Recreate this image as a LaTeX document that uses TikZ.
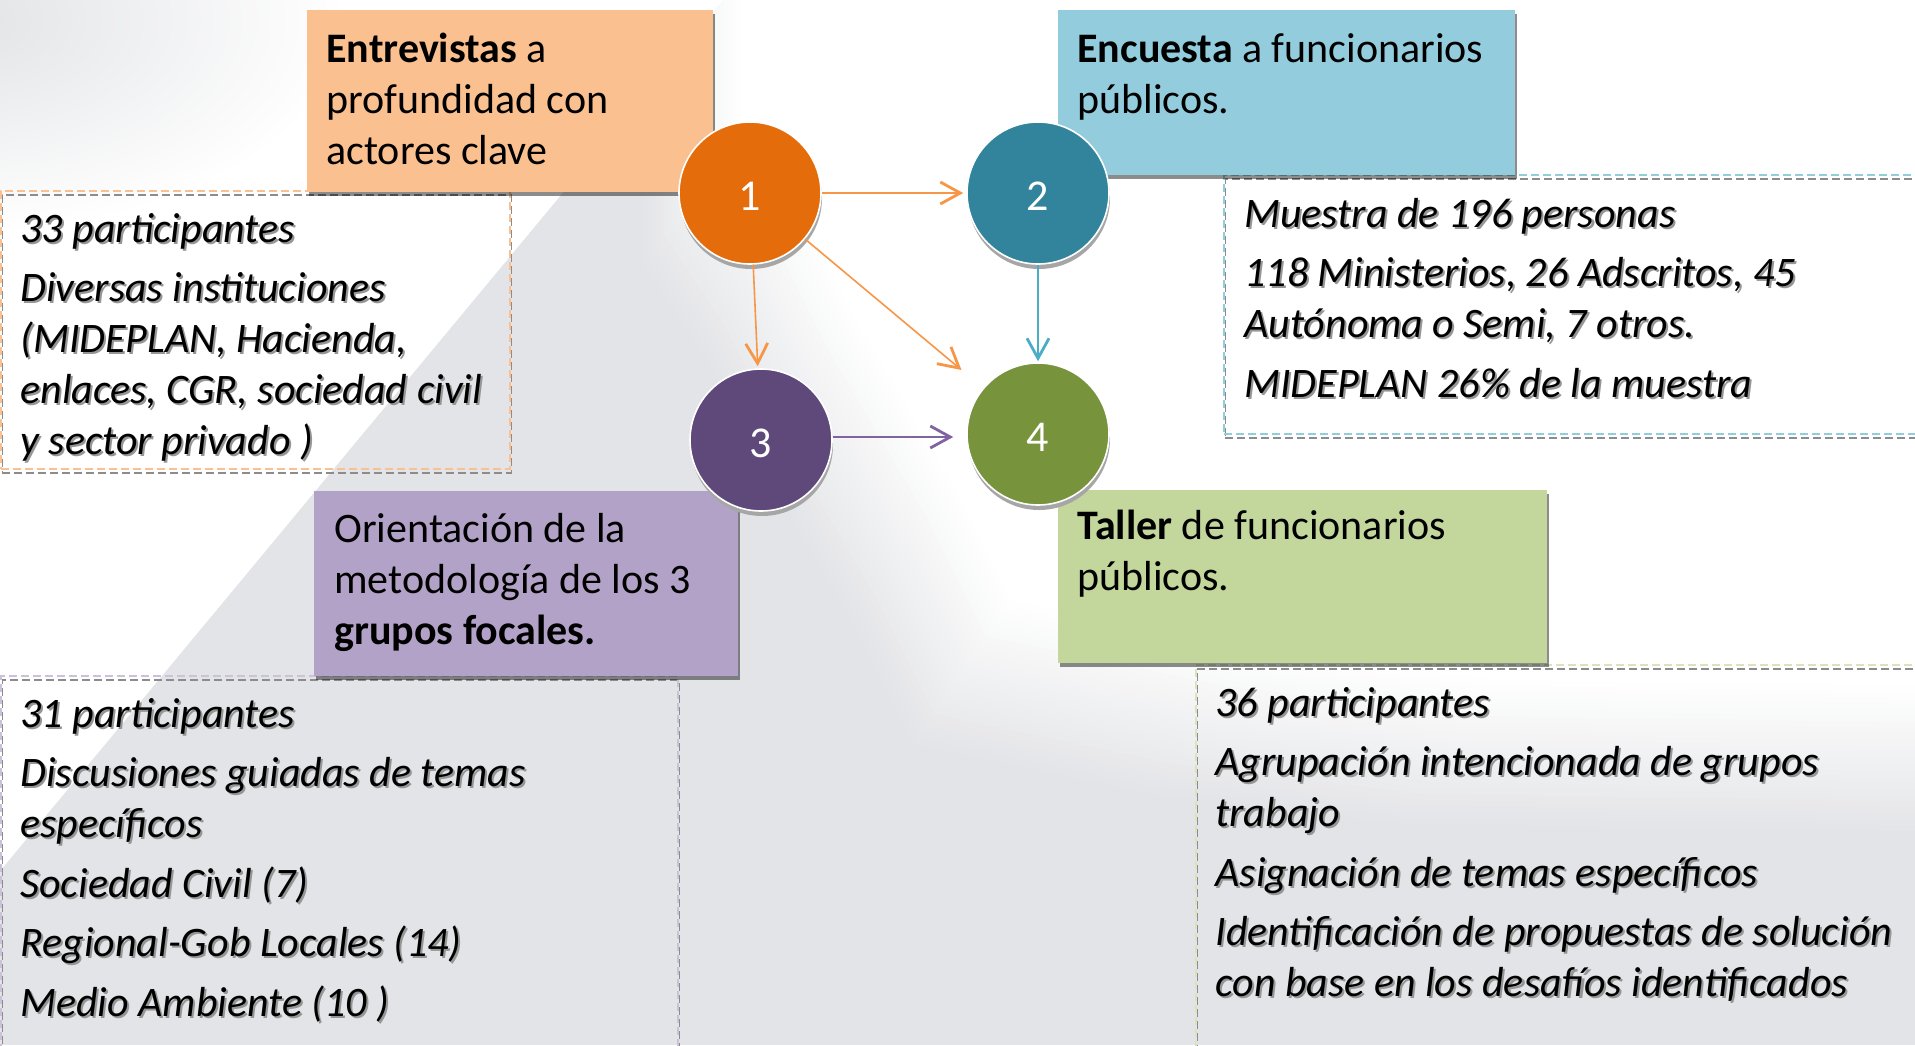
\documentclass[tikz,border=0pt]{standalone}
\usepackage{fontspec}
\setmainfont{Carlito}
\usetikzlibrary{arrows.meta,shadows,fadings}
\definecolor{bgG}{RGB}{227,228,231}
\definecolor{boxO}{RGB}{250,192,144}
\definecolor{boxB}{RGB}{147,205,221}
\definecolor{boxP}{RGB}{179,162,199}
\definecolor{boxG}{RGB}{195,214,155}
\definecolor{cirO}{RGB}{228,108,10}
\definecolor{cirB}{RGB}{49,132,155}
\definecolor{cirP}{RGB}{95,73,122}
\definecolor{cirG}{RGB}{119,147,60}
\definecolor{arrO}{RGB}{247,150,70}
\definecolor{arrB}{RGB}{75,172,198}
\definecolor{arrP}{RGB}{128,100,162}
\definecolor{dashO}{RGB}{250,192,144}
\definecolor{dashB}{RGB}{146,205,220}
\definecolor{dashP}{RGB}{204,193,218}
\definecolor{dashG}{RGB}{215,228,189}
\definecolor{dshadow}{RGB}{140,140,140}
\definecolor{tshadow}{RGB}{150,150,150}
\tikzfading[name=radfade, inner color=transparent!0, outer color=transparent!100]
\newcommand\PL[1]{\hbox{#1}}
\newcommand\SL[1]{\hbox{\rlap{\kern1pt\raisebox{-1pt}{\textcolor{tshadow}{#1}}}#1}}
\newcommand\PS{\vskip4.25pt}
\def\softpath{(740,-200) -- (740,120) -- (800,210) -- (850,310) -- (950,480) -- (1010,600) -- (1250,650) -- (1500,680) -- (2200,690) -- (2200,-200) -- cycle}
\begin{document}
\begin{tikzpicture}[x=0.5pt,y=-0.5pt,
  txt/.style={anchor=base west, inner sep=0pt, font=\fontsize{21pt}{25.5pt}\selectfont},
  cbox/.style={anchor=north west, inner sep=0pt, fill=#1,
    drop shadow={shadow xshift=0.6pt, shadow yshift=-2pt, opacity=0.45, fill=black}},
  dbox/.style={anchor=north west, inner sep=0pt, draw=#1, line width=0.9pt,
    dash pattern=on 4pt off 2pt,
    preaction={draw=dshadow, line width=0.9pt, dash pattern=on 4pt off 2pt,
      transform canvas={shift={(0.75pt,-2pt)}}}},
  num/.style={circle, minimum size=71pt, inner sep=0pt, fill=#1, draw=white,
    line width=0.8pt, text=white, font=\fontsize{22pt}{26pt}\selectfont,
    text height=17pt, text depth=0pt,
    drop shadow={shadow xshift=0.5pt, shadow yshift=-2.5pt, opacity=1, fill=black!35}},
  link/.style={draw=#1, line width=0.8pt,
    -{Straight Barb[length=10pt,width=11pt,line width=1.4pt]}},
]
\useasboundingbox (0,0) rectangle (1915,1045);
% background
\fill[bgG] (0,0) rectangle (1915,1045);
\foreach \k in {24,23,...,1} {
  \pgfmathsetmacro\pc{100*\k/25}
  \fill[bgG!\pc!white, shift={(-4*\k,6*\k)}] \softpath;
}
\fill[white] \softpath;
\fill[white] (-10,-10) -- (731,-10) -- (-10,883) -- cycle;
\fill[bgG, path fading=radfade] (-40,20) ellipse [x radius=190pt, y radius=105pt];

% dashed detail boxes
\node[dbox=dashO, minimum width=254.5pt, minimum height=139pt] (d1) at (0,190) {};
\node[dbox=dashB, minimum width=356pt, minimum height=129.5pt] (d2) at (1223,174) {};
\node[dbox=dashP, minimum width=338.5pt, minimum height=195pt] (d3) at (0,675) {};
\node[dbox=dashG, minimum width=370pt, minimum height=200pt] (d4) at (1195,664) {};

% coloured title boxes
\node[cbox=boxO, minimum width=203pt, minimum height=91pt] (bO) at (307,10) {};
\node[cbox=boxB, minimum width=228.5pt, minimum height=82.5pt] (bB) at (1058,10) {};
\node[cbox=boxP, minimum width=212pt, minimum height=92.5pt] (bP) at (314,491) {};
\node[cbox=boxG, minimum width=244.5pt, minimum height=86.5pt] (bG) at (1058,490) {};

% title texts
\node[txt] (tO) at (326,62) {\vtop{\PL{\textbf{Entrevistas} a}\PL{profundidad con}\PL{actores clave}}};
\node[txt] (tB) at (1077,62) {\vtop{\PL{\textbf{Encuesta} a funcionarios}\PL{públicos.}}};
\node[txt] (tP) at (334,542) {\vtop{\PL{Orientación de la}\PL{metodología de los 3}\PL{\textbf{grupos focales.}}}};
\node[txt] (tG) at (1077,539) {\vtop{\PL{\textbf{Taller} de funcionarios}\PL{públicos.}}};

% detail texts
\node[txt] (t1) at (20,242) {\vtop{\itshape
  \SL{33 participantes}\PS
  \SL{Diversas instituciones}
  \SL{(MIDEPLAN, Hacienda,}
  \SL{enlaces, CGR, sociedad civil}
  \SL{y sector privado )}}};
\node[txt] (t2) at (1244,227) {\vtop{\itshape
  \SL{Muestra de 196 personas}\PS
  \SL{118 Ministerios, 26 Adscritos, 45}
  \SL{Autónoma o Semi, 7 otros.}\PS
  \SL{MIDEPLAN 26\% de la muestra}}};
\node[txt] (t3) at (20,727) {\vtop{\itshape
  \SL{31 participantes}\PS
  \SL{Discusiones guiadas de temas}
  \SL{específicos}\PS
  \SL{Sociedad Civil (7)}\PS
  \SL{Regional-Gob Locales (14)}\PS
  \SL{Medio Ambiente (10 )}}};
\node[txt] (t4) at (1215,716) {\vtop{\itshape
  \SL{36 participantes}\PS
  \SL{Agrupación intencionada de grupos}
  \SL{trabajo}\PS
  \SL{Asignación de temas específicos}\PS
  \SL{Identificación de propuestas de solución}
  \SL{con base en los desafíos identificados}}};

% numbered circles
\node[num=cirO] (c1) at (750,193) {1};
\node[num=cirB] (c2) at (1038,193) {2};
\node[num=cirP] (c3) at (761,440) {3};
\node[num=cirG] (c4) at (1038,434) {4};

% connectors
\draw[link=arrO, shorten >=1.5pt] (c1) -- (c2);
\draw[link=arrO, shorten >=1pt] (c1) -- (c3);
\draw[link=arrO, shorten >=14pt] (c1) -- (c4);
\draw[link=arrB, shorten >=0.5pt] (c2) -- (c4);
\draw[link=arrP, shorten >=6.5pt] ([yshift=1.5pt]c3.east) -- ([yshift=1.5pt]c3.east -| c4.west);
\end{tikzpicture}
\end{document}
